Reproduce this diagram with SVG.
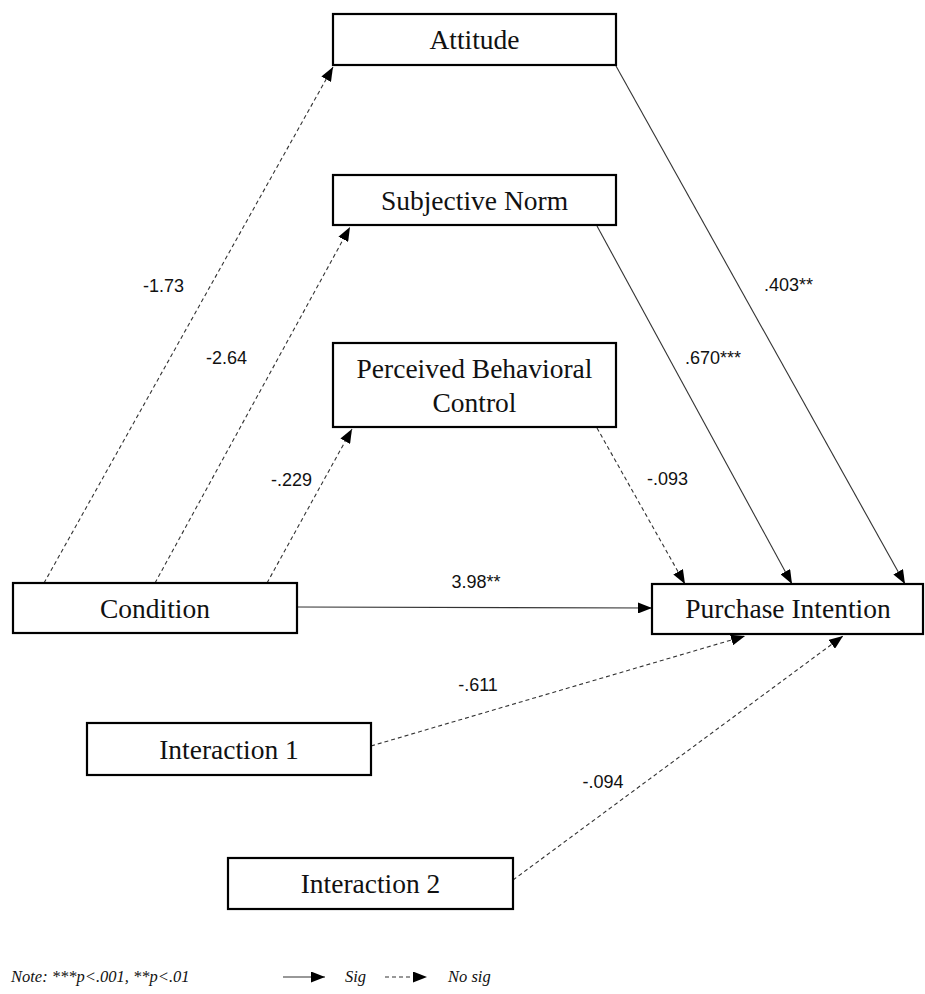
<svg xmlns="http://www.w3.org/2000/svg" width="925" height="994" viewBox="0 0 925 994">
  <style>
    .box { fill: #ffffff; stroke: #000000; stroke-width: 2.2; }
    .node-text { font-family: "Liberation Serif", "Times New Roman", serif; font-size: 27.5px; fill: #111111; text-anchor: middle; }
    .coef { font-family: "Liberation Sans", Arial, sans-serif; font-size: 18px; fill: #111111; }
    .sig { fill: none; stroke: #333333; stroke-width: 1.1; marker-end: url(#arrow); }
    .nosig { fill: none; stroke: #333333; stroke-width: 1.1; stroke-dasharray: 4 3; marker-end: url(#arrow); }
    .legend { font-family: "Liberation Serif", "Times New Roman", serif; font-size: 16.5px; font-style: italic; fill: #111111; }
  </style>
  <defs>
    <marker id="arrow" viewBox="0 0 14 11" refX="14" refY="5.5" markerWidth="14" markerHeight="11" markerUnits="userSpaceOnUse" orient="auto">
      <path d="M0,0 L14,5.5 L0,11 z" fill="#000000"/>
    </marker>
  </defs>

  <rect width="925" height="994" fill="#ffffff"/>

  <!-- paths between constructs -->
  <g id="connectors">
    <line class="nosig" x1="44" y1="583" x2="333" y2="67"/>
    <line class="nosig" x1="155" y1="583" x2="350" y2="227"/>
    <line class="nosig" x1="267" y1="583" x2="352" y2="429"/>
    <line class="sig" x1="616" y1="66" x2="905" y2="584"/>
    <line class="sig" x1="597" y1="226" x2="792" y2="584"/>
    <line class="nosig" x1="597" y1="428" x2="685" y2="584"/>
    <line class="sig" x1="297" y1="607" x2="652" y2="608"/>
    <line class="nosig" x1="371" y1="746" x2="745" y2="636"/>
    <line class="nosig" x1="513" y1="880" x2="843" y2="636"/>
  </g>

  <!-- path coefficients -->
  <g id="coefficients">
    <text class="coef" x="143" y="292">-1.73</text>
    <text class="coef" x="206" y="364">-2.64</text>
    <text class="coef" x="271" y="486">-.229</text>
    <text class="coef" x="647" y="485">-.093</text>
    <text class="coef" x="764" y="291">.403**</text>
    <text class="coef" x="685" y="364">.670***</text>
    <text class="coef" x="476" y="588" text-anchor="middle">3.98**</text>
    <text class="coef" x="478" y="691" text-anchor="middle">-.611</text>
    <text class="coef" x="603" y="788" text-anchor="middle">-.094</text>
  </g>

  <g id="attitude">
    <rect class="box" x="333" y="14" width="283" height="51"/>
    <text class="node-text" x="474.5" y="49">Attitude</text>
  </g>

  <g id="subjective-norm">
    <rect class="box" x="333" y="175" width="283" height="50"/>
    <text class="node-text" x="474.5" y="210">Subjective Norm</text>
  </g>

  <g id="perceived-behavioral-control">
    <rect class="box" x="333" y="343" width="283" height="84"/>
    <text class="node-text" x="474.5" y="378">Perceived Behavioral</text>
    <text class="node-text" x="474.5" y="412">Control</text>
  </g>

  <g id="condition">
    <rect class="box" x="13" y="583" width="284" height="50"/>
    <text class="node-text" x="155" y="618">Condition</text>
  </g>

  <g id="purchase-intention">
    <rect class="box" x="652" y="584" width="271" height="50"/>
    <text class="node-text" x="788" y="618">Purchase Intention</text>
  </g>

  <g id="interaction-1">
    <rect class="box" x="87" y="723" width="284" height="52"/>
    <text class="node-text" x="229" y="759">Interaction 1</text>
  </g>

  <g id="interaction-2">
    <rect class="box" x="228" y="858" width="285" height="51"/>
    <text class="node-text" x="370.5" y="893">Interaction 2</text>
  </g>

  <!-- note and line-style key -->
  <g id="legend">
    <text class="legend" x="11" y="982">Note: ***p&lt;.001, **p&lt;.01</text>
    <line class="sig" x1="283" y1="977" x2="325" y2="977"/>
    <text class="legend" x="345" y="982">Sig</text>
    <line class="nosig" x1="385" y1="977" x2="427" y2="977"/>
    <text class="legend" x="448" y="982">No sig</text>
  </g>
</svg>
